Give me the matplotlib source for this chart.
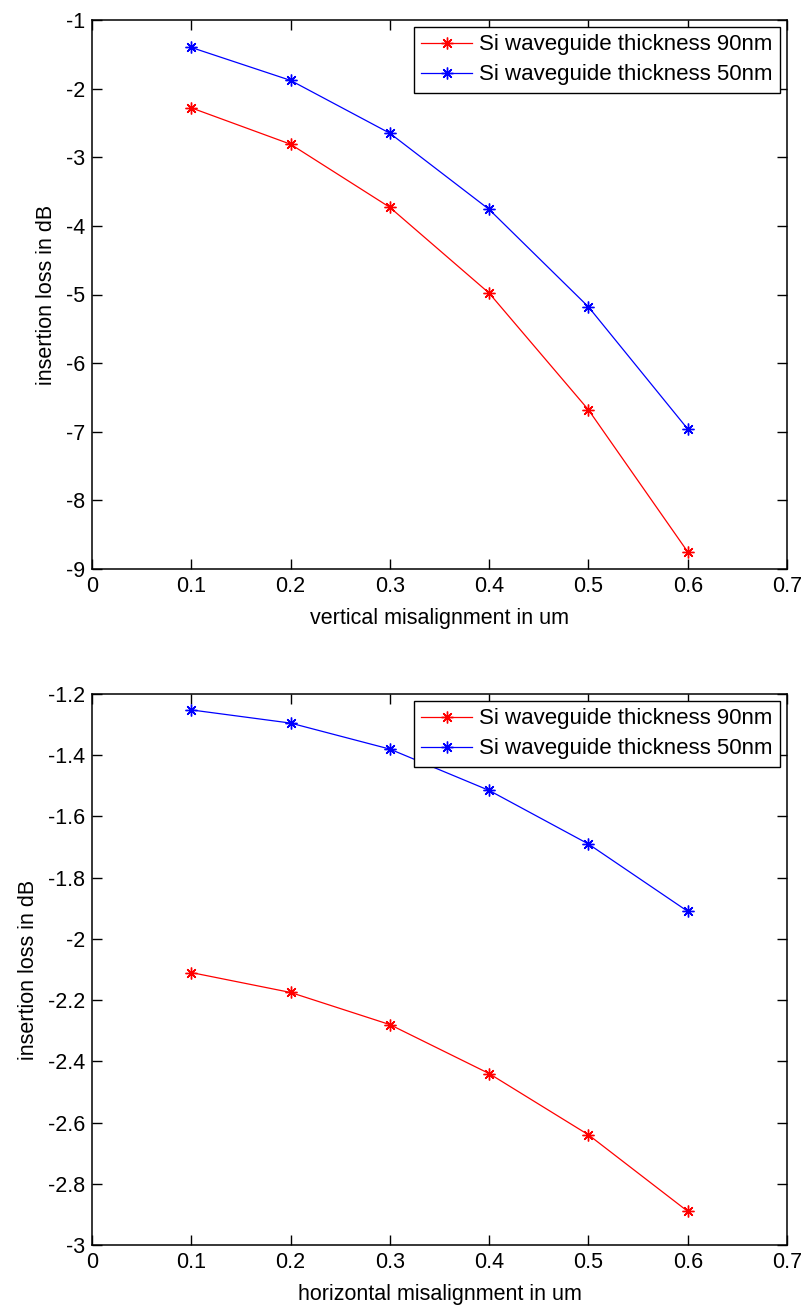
import matplotlib.pyplot as plt

x = [0.1, 0.2, 0.3, 0.4, 0.5, 0.6]

# vertical misalignment
vert_90nm = [-2.28, -2.81, -3.73, -4.98, -6.68, -8.75]
vert_50nm = [-1.40, -1.88, -2.65, -3.76, -5.18, -6.96]

# horizontal misalignment
horiz_90nm = [-2.11, -2.175, -2.28, -2.44, -2.64, -2.89]
horiz_50nm = [-1.252, -1.295, -1.38, -1.515, -1.69, -1.91]

labels = ['Si waveguide thickness 90nm', 'Si waveguide thickness 50nm']

plt.rcParams['font.family'] = ['Liberation Sans', 'DejaVu Sans']

fig = plt.figure(figsize=(8.05, 13.08), dpi=100)
ax1 = fig.add_axes([92 / 805, 1 - 569 / 1308, 695 / 805, 549 / 1308])
ax2 = fig.add_axes([92 / 805, 1 - 1245 / 1308, 695 / 805, 551 / 1308])

panels = [
    (ax1, vert_90nm, vert_50nm, 'vertical misalignment in um', (-9, -1), 1),
    (ax2, horiz_90nm, horiz_50nm, 'horizontal misalignment in um', (-3, -1.2), 0.2),
]

star = (8, 2, 0)  # matlab-like asterisk

for ax, red, blue, xlabel, ylim, step in panels:
    ax.plot(x, red, color='red', marker=star, markersize=8.5, markeredgewidth=1,
            linewidth=0.9, label=labels[0])
    ax.plot(x, blue, color='blue', marker=star, markersize=8.5, markeredgewidth=1,
            linewidth=0.9, label=labels[1])
    ax.set_xlim(0, 0.7)
    ax.set_ylim(*ylim)
    ax.set_xticks([0, 0.1, 0.2, 0.3, 0.4, 0.5, 0.6, 0.7])
    ax.set_xticklabels(['0', '0.1', '0.2', '0.3', '0.4', '0.5', '0.6', '0.7'])
    n = int(round((ylim[1] - ylim[0]) / step))
    yt = [round(ylim[0] + i * step, 2) for i in range(n + 1)]
    ax.set_yticks(yt)
    ax.set_yticklabels(['%g' % v for v in yt])
    ax.tick_params(direction='in', top=True, right=True, labelsize=15.5, length=7,
                   width=1, pad=5)
    ax.set_xlabel(xlabel, fontsize=15.5, labelpad=8)
    ax.set_ylabel('insertion loss in dB', fontsize=15.5, labelpad=6)
    for s in ax.spines.values():
        s.set_linewidth(1.1)
    leg = ax.legend(loc='upper right', fontsize=16, fancybox=False, edgecolor='black',
                    framealpha=1, borderaxespad=0.3, handlelength=2.3,
                    handletextpad=0.3, labelspacing=0.4, borderpad=0.35)
    leg.get_frame().set_linewidth(1)

fig.savefig('out.png', dpi=100)
